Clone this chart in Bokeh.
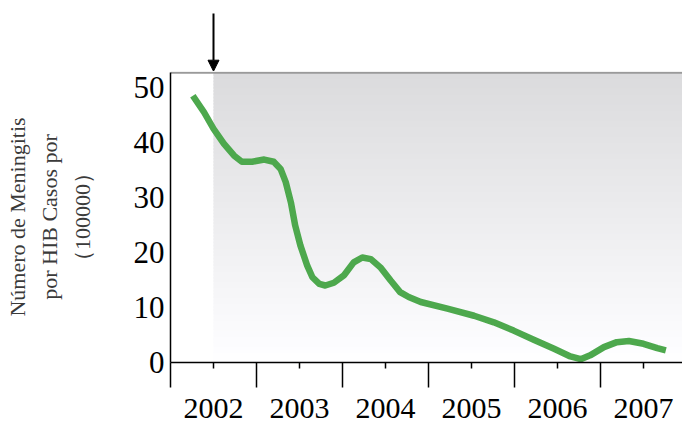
import numpy as np
from bokeh.plotting import figure
from bokeh.layouts import column
from bokeh.models import FixedTicker, Range1d, Arrow, NormalHead
from bokeh.embed import file_html
from bokeh.resources import INLINE

# ---------------- data ----------------
years = [2002, 2003, 2004, 2005, 2006, 2007]
year_labels = ["2002", "2003", "2004", "2005", "2006", "2007"]
y_ticks = [0, 10, 20, 30, 40, 50]
vaccine_year = 2002.0

curve_x = [2001.76, 2001.89, 2002.00, 2002.12, 2002.24, 2002.33, 2002.45, 2002.59,
           2002.70, 2002.78, 2002.84, 2002.90, 2002.95, 2003.01, 2003.09, 2003.15,
           2003.23, 2003.30, 2003.40, 2003.52, 2003.63, 2003.73, 2003.83, 2003.94,
           2004.06, 2004.17, 2004.27, 2004.41, 2004.72, 2005.03, 2005.26, 2005.49,
           2005.73, 2005.96, 2006.15, 2006.27, 2006.38, 2006.54, 2006.69, 2006.83,
           2007.00, 2007.16, 2007.26]
curve_y = [48.5, 45.5, 42.5, 39.8, 37.6, 36.5, 36.5, 36.9,
           36.5, 35.2, 32.8, 29.1, 24.9, 21.3, 17.6, 15.5,
           14.3, 14.0, 14.5, 15.9, 18.2, 19.1, 18.8, 17.3,
           14.9, 12.8, 11.9, 11.0, 9.8, 8.5, 7.3, 5.8,
           4.1, 2.5, 1.1, 0.6, 1.3, 2.8, 3.7, 3.9,
           3.4, 2.6, 2.2]

title_lines = ["Número de Meningitis", "por HIB Casos por", "（100000）"]

# ---------------- layout constants ----------------
W, H = 682, 426
X_START = 2001.5
PX_PER_YEAR = 86.0
PX_PER_UNIT = 5.5
FRAME_LEFT = 170
TOP_H = 71                     # strip above the plot box (arrow)
AXIS_Y = 362                   # page y of the x axis
FRAME_W = W - FRAME_LEFT
FRAME_H = AXIS_Y - TOP_H
X_END = X_START + FRAME_W / PX_PER_YEAR
Y_END = FRAME_H / PX_PER_UNIT
BOX_TOP = 52.7                 # top edge of the plotting box

x_range = Range1d(X_START, X_END)

# ---------------- top strip with the arrow ----------------
top = figure(width=W, height=TOP_H, output_backend="svg", toolbar_location=None,
             x_range=x_range, y_range=Range1d(0, TOP_H),
             x_axis_location=None, y_axis_location=None,
             min_border_left=FRAME_LEFT, min_border_right=0, min_border_top=0,
             min_border_bottom=0)
top.outline_line_color = None
top.grid.visible = False
top.background_fill_color = "white"
top.border_fill_color = "white"
top.add_layout(Arrow(end=NormalHead(size=11, fill_color="black", line_color="black",
                                    line_width=1),
                     x_start=vaccine_year, y_start=TOP_H - 13,
                     x_end=vaccine_year, y_end=0.3,
                     line_color="black", line_width=2))

# ---------------- main plot ----------------
p = figure(width=W, height=H - TOP_H, output_backend="svg", toolbar_location=None,
           x_range=x_range, y_range=Range1d(0, Y_END),
           min_border_left=FRAME_LEFT, min_border_right=0, min_border_top=0,
           min_border_bottom=H - AXIS_Y)
p.outline_line_color = None
p.grid.visible = False
p.background_fill_color = "white"
p.border_fill_color = "white"

# shaded post-vaccine region (vertical gradient)
n = 90
edges = np.linspace(0, BOX_TOP, n + 1)
mids = (edges[:-1] + edges[1:]) / 2
g = 255 - 36 * (mids / BOX_TOP)
colors = ["#%02x%02x%02x" % (int(v), int(v), min(255, int(v) + 2)) for v in g]
step = edges[1] - edges[0]
tops = np.minimum(edges[1:] + step * 0.6, BOX_TOP)
p.quad(left=vaccine_year, right=X_END + 1, bottom=edges[:-1], top=tops,
       fill_color=colors, line_color=None)

# top border of box
p.segment(x0=[X_START], y0=[BOX_TOP], x1=[X_END + 1], y1=[BOX_TOP],
          line_color="#9a9a9a", line_width=2)

# curve
p.line(curve_x, curve_y, line_color="#4da84d", line_width=6.5,
       line_join="round", line_cap="butt")

# ---------------- axes ----------------
xa = p.xaxis[0]
xa.ticker = FixedTicker(ticks=years, minor_ticks=[y - 0.5 for y in years])
xa.major_label_overrides = {y: t for y, t in zip(years, year_labels)}
xa.major_tick_out = 6
xa.major_tick_in = 0
xa.minor_tick_out = 25
xa.minor_tick_in = 0
xa.major_label_text_font = "Liberation Serif"
xa.major_label_text_font_size = "30px"
xa.major_label_text_color = "black"
xa.major_label_standoff = 11
xa.axis_line_color = "black"
xa.axis_line_width = 1.5
xa.major_tick_line_color = "black"
xa.major_tick_line_width = 1.5
xa.minor_tick_line_color = "black"
xa.minor_tick_line_width = 1.5

ya = p.yaxis[0]
ya.ticker = FixedTicker(ticks=y_ticks, minor_ticks=[])
ya.bounds = (0, BOX_TOP)
ya.major_tick_out = 0
ya.major_tick_in = 0
ya.minor_tick_out = 0
ya.minor_tick_in = 0
ya.major_label_text_font = "Liberation Serif"
ya.major_label_text_font_size = "31px"
ya.major_label_text_color = "black"
ya.major_label_standoff = 6
ya.axis_line_color = "black"
ya.axis_line_width = 1.5

# y axis title: three lines
ya.axis_label = "\n".join(title_lines)
ya.axis_label_text_font = "Liberation Serif"
ya.axis_label_text_font_size = "22px"
ya.axis_label_text_font_style = "normal"
ya.axis_label_text_color = "#3a3a3a"
ya.axis_label_text_line_height = 1.3
ya.axis_label_standoff = 36

layout = column(top, p, spacing=0)
open("out.html", "w").write(file_html(layout, INLINE))
